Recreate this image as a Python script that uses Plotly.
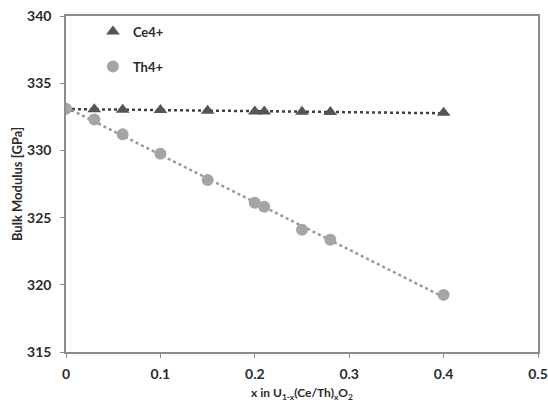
import numpy as np
import plotly.graph_objects as go

# Composition x in U(1-x)(Ce/Th)xO2
x_ce = [0, 0.03, 0.06, 0.10, 0.15, 0.20, 0.21, 0.25, 0.28, 0.40]
bulk_ce = [333.1, 333.07, 333.03, 333.0, 332.95, 332.9, 332.9, 332.87, 332.85, 332.8]

x_th = [0, 0.03, 0.06, 0.10, 0.15, 0.20, 0.21, 0.25, 0.28, 0.40]
bulk_th = [333.1, 332.3, 331.2, 329.75, 327.8, 326.1, 325.8, 324.1, 323.35, 319.25]

x_ticks = [0, 0.1, 0.2, 0.3, 0.4, 0.5]
x_tick_labels = ["0", "0.1", "0.2", "0.3", "0.4", "0.5"]
y_ticks = [315, 320, 325, 330, 335, 340]

FONT = "Lato"
CE_COLOR = "#555555"
TH_COLOR = "#a5a5a5"


def trend(xs, ys):
    slope, intercept = np.polyfit(xs, ys, 1)
    xx = np.array([min(xs), max(xs)])
    return xx, slope * xx + intercept


fig = go.Figure()

# linear trendlines
tx, ty = trend(x_ce, bulk_ce)
fig.add_trace(go.Scatter(x=tx, y=ty, mode="lines", showlegend=False,
                         line=dict(color="#404040", width=2.5, dash="dot"),
                         hoverinfo="skip"))
tx, ty = trend(x_th, bulk_th)
fig.add_trace(go.Scatter(x=tx, y=ty, mode="lines", showlegend=False,
                         line=dict(color="#9a9a9a", width=2.5, dash="dot"),
                         hoverinfo="skip"))

fig.add_trace(go.Scatter(x=x_ce, y=bulk_ce, mode="markers", name="Ce4+",
                         legendgroup="ce",
                         marker=dict(symbol="triangle-up", size=12, color=CE_COLOR)))
fig.add_trace(go.Scatter(x=x_th, y=bulk_th, mode="markers", name="Th4+",
                         legendgroup="th",
                         marker=dict(symbol="circle", size=12, color=TH_COLOR)))

axis_common = dict(
    showgrid=False, zeroline=False, showline=True, mirror=True,
    linecolor="#8c8c8c", linewidth=1.5, automargin=False,
    ticks="outside", ticklen=4, tickcolor="#8c8c8c", tickwidth=1,
    tickfont=dict(family=FONT, size=14, color="#2b2b2b", weight="bold"),
)

fig.update_layout(
    width=548, height=402,
    margin=dict(l=66, r=10, t=16, b=50),
    paper_bgcolor="white", plot_bgcolor="white",
    font=dict(family=FONT, color="#2b2b2b"),
    xaxis=dict(range=[0, 0.5], tickvals=x_ticks, ticktext=x_tick_labels,
               ticklabelstandoff=4,
               title=dict(text="x in U<sub>1-x</sub>(Ce/Th)<sub>x</sub>O<sub>2</sub>",
                          font=dict(family=FONT, size=12, color="#2b2b2b", weight="bold"),
                          standoff=13),
               **axis_common),
    yaxis=dict(range=[315, 340], tickvals=y_ticks, ticklabelstandoff=6,
               title=dict(text="Bulk Modulus [GPa]",
                          font=dict(family=FONT, size=13, color="#2b2b2b", weight="bold"),
                          standoff=2),
               **axis_common),
    legend=dict(x=0.057, y=0.998, xanchor="left", yanchor="top",
                bgcolor="rgba(0,0,0,0)", tracegroupgap=15,
                font=dict(family=FONT, size=13, color="#2b2b2b", weight="bold")),
)

fig.write_html("out.html")
